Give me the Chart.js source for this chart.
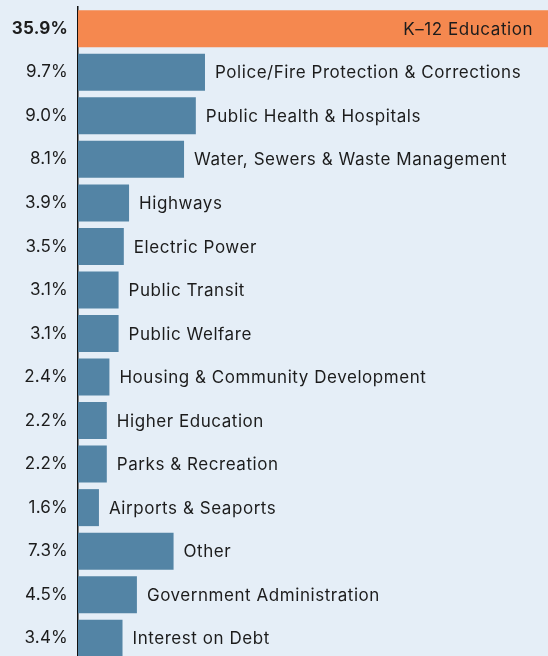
<!DOCTYPE html>
<html>
<head>
<meta charset="utf-8">
<script src="https://cdn.jsdelivr.net/npm/chart.js@4"></script>
<style>
  html, body { margin: 0; padding: 0; background: #e5eef7; overflow: hidden; }
  #wrap { width: 548px; height: 660px; position: relative; }
</style>
</head>
<body>
<div id="wrap"><canvas id="spendChart"></canvas></div>
<script>
const categories = [
    'K\u201312 Education',
    'Police/Fire Protection & Corrections',
    'Public Health & Hospitals',
    'Water, Sewers & Waste Management',
    'Highways',
    'Electric Power',
    'Public Transit',
    'Public Welfare',
    'Housing & Community Development',
    'Higher Education',
    'Parks & Recreation',
    'Airports & Seaports',
    'Other',
    'Government Administration',
    'Interest on Debt'
];
const shares = [35.9, 9.7, 9.0, 8.1, 3.9, 3.5, 3.1, 3.1, 2.4, 2.2, 2.2, 1.6, 7.3, 4.5, 3.4];
const pctLabels = ['35.9%', '9.7%', '9.0%', '8.1%', '3.9%', '3.5%', '3.1%', '3.1%', '2.4%', '2.2%', '2.2%', '1.6%', '7.3%', '4.5%', '3.4%'];

const FONT = 'Inter, "Noto Sans", sans-serif';
const TEXT = '#1c1c1c';

// slightly wider tracking for the percentage ticks
const tracking = {
    id: 'tracking',
    beforeDraw(chart) { chart.ctx.letterSpacing = '0.2px'; }
};

// names next to the bars (inside the first one)
const barNames = {
    id: 'barNames',
    afterDatasetsDraw(chart) {
        const c = chart.ctx;
        const meta = chart.getDatasetMeta(0);
        c.save();
        c.font = '17px ' + FONT;
        c.letterSpacing = '0.55px';
        c.fillStyle = TEXT;
        c.textBaseline = 'middle';
        meta.data.forEach((bar, i) => {
            if (i === 0) {
                c.textAlign = 'right';
                c.fillText(categories[i], bar.x - 15, bar.y + 1);
            } else {
                c.textAlign = 'left';
                c.fillText(categories[i], bar.x + 10, bar.y + 1);
            }
        });
        c.restore();
    }
};

const ctx = document.getElementById('spendChart');
const chart = new Chart(ctx, {
    type: 'bar',
    data: {
        labels: categories,
        datasets: [{
            data: shares,
            backgroundColor: shares.map((v, i) => i === 0 ? '#f5884f' : '#5384a5'),
            barPercentage: 0.85,
            categoryPercentage: 1
        }]
    },
    options: {
        indexAxis: 'y',
        responsive: true,
        maintainAspectRatio: false,
        animation: false,
        layout: { padding: { top: 7, left: 0, right: 0, bottom: 0 } },
        plugins: { legend: { display: false }, tooltip: { enabled: false } },
        scales: {
            x: {
                display: false,
                min: 0,
                max: 35.9
            },
            y: {
                grid: { display: false, drawTicks: false },
                border: { display: true, color: '#111', width: 1.5 },
                afterFit(scale) {
                    scale.width = 78;
                    scale.paddingTop = 0;
                    scale.paddingBottom = 0;
                },
                ticks: {
                    padding: 10,
                    color: TEXT,
                    font: (c) => ({ family: FONT, size: 17, weight: c.index === 0 ? 'bold' : 'normal' }),
                    callback: (v, i) => pctLabels[i]
                }
            }
        }
    },
    plugins: [tracking, barNames]
});
</script>
</body>
</html>
